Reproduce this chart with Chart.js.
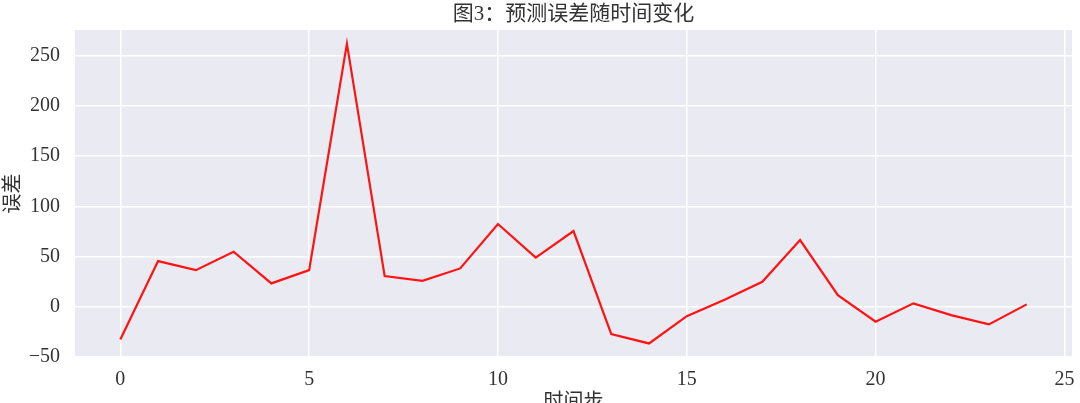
<!DOCTYPE html>
<html>
<head>
<meta charset="utf-8">
<script src="https://cdn.jsdelivr.net/npm/chart.js@4/dist/chart.umd.min.js"></script>
<style>
html,body{margin:0;padding:0;background:#ffffff;}
#wrap{width:1080px;height:403px;position:relative;}
</style>
</head>
<body>
<div id="wrap"><canvas id="c"></canvas></div>
<script>
// ---- data ----
const timeSteps = [0,1,2,3,4,5,6,7,8,9,10,11,12,13,14,15,16,17,18,19,20,21,22,23,24];
const errors = [-32.6,45.5,36.5,54.8,23.3,36.5,262,30.6,25.9,38.2,82.4,49,75.4,-27.2,-36.5,-9.3,7,24.9,66.4,11.6,-14.9,3.4,-8.3,-17.5,2.4];
const xTickValues = [0,5,10,15,20,25];
const yTickValues = [-50,0,50,100,150,200,250];
const chartTitle = '图3：预测误差随时间变化';
const xTitle = '时间步';
const yTitle = '误差';

const serif = "'Liberation Serif','Times New Roman','Noto Sans CJK SC',serif";
const textColor = '#333333';

const bgPlugin = {
  id: 'bg',
  beforeDraw(chart) {
    const {ctx, chartArea: a, width, height} = chart;
    ctx.save();
    ctx.fillStyle = '#ffffff';
    ctx.fillRect(0, 0, width, height);
    ctx.fillStyle = '#EAEAF2';
    ctx.fillRect(a.left, a.top, a.right - a.left, a.bottom - a.top);
    ctx.restore();
  }
};
const titleCenterPlugin = {
  id: 'titleCenter',
  afterLayout(chart) {
    if (chart.titleBlock) {
      chart.titleBlock.left = chart.chartArea.left;
      chart.titleBlock.right = chart.chartArea.right;
    }
  }
};

const fmt = v => String(v).replace('-', '\u2212');

new Chart(document.getElementById('c'), {
  type: 'line',
  data: {
    datasets: [{
      data: timeSteps.map((t, i) => ({x: t, y: errors[i]})),
      borderColor: 'rgba(255,0,0,0.92)',
      borderWidth: 2.2,
      pointRadius: 0,
      tension: 0,
      fill: false
    }]
  },
  options: {
    responsive: true,
    maintainAspectRatio: false,
    animation: false,
    layout: {padding: {left: 0, right: 8, top: 0, bottom: 0}},
    plugins: {
      legend: {display: false},
      tooltip: {enabled: false},
      title: {
        display: true,
        text: chartTitle,
        color: textColor,
        font: {family: serif, size: 21, weight: 'normal'},
        padding: {top: 2, bottom: 2.8}
      }
    },
    scales: {
      x: {
        type: 'linear',
        min: -1.2,
        max: 25.2,
        afterBuildTicks: s => { s.ticks = xTickValues.map(v => ({value: v})); },
        afterFit: s => { s.height = 46; s.paddingLeft = 0; s.paddingRight = 0; },
        grid: {color: '#ffffff', lineWidth: 1.5, drawTicks: false},
        border: {display: false},
        ticks: {
          color: textColor,
          font: {family: serif, size: 20},
          padding: 11,
          maxRotation: 0,
          callback: v => fmt(v)
        },
        title: {
          display: true,
          text: xTitle,
          color: textColor,
          font: {family: serif, size: 20},
          padding: {top: 0, bottom: -12}
        }
      },
      y: {
        type: 'linear',
        min: -50,
        max: 275.6,
        afterBuildTicks: s => { s.ticks = yTickValues.map(v => ({value: v})); },
        afterFit: s => { s.width = 75; },
        grid: {color: '#ffffff', lineWidth: 1.5, drawTicks: false},
        border: {display: false},
        ticks: {
          color: textColor,
          font: {family: serif, size: 20},
          padding: 15,
          callback: v => fmt(v)
        },
        title: {
          display: true,
          text: yTitle,
          color: textColor,
          font: {family: serif, size: 20},
          padding: {top: 2, bottom: 0}
        }
      }
    }
  },
  plugins: [bgPlugin, titleCenterPlugin]
});
</script>
</body>
</html>
